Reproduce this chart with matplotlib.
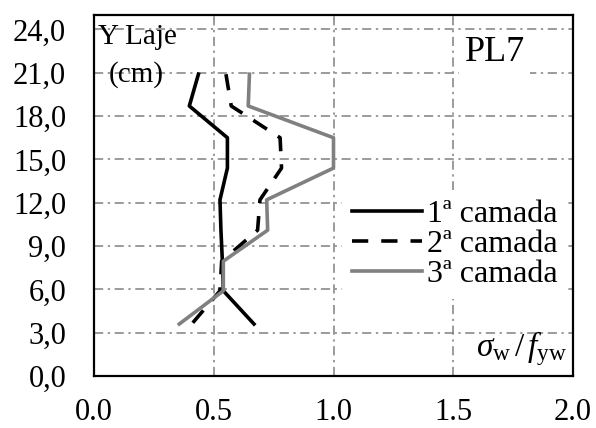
import matplotlib
matplotlib.use("Agg")
import matplotlib.pyplot as plt
from matplotlib.ticker import FuncFormatter

plt.rcParams['font.family'] = ['Liberation Serif', 'DejaVu Serif']
plt.rcParams['mathtext.fontset'] = 'custom'
plt.rcParams['mathtext.rm'] = 'Liberation Serif'
plt.rcParams['mathtext.it'] = 'Liberation Serif:italic'

# Height in the slab (cm) and normalised stirrup stress for each layer
y_laje = [20.9, 18.7, 16.5, 14.4, 12.2, 10.1, 7.95, 5.9, 3.6]
camada_1 = [0.436, 0.398, 0.557, 0.557, 0.526, 0.530, 0.536, 0.540, 0.668]
camada_2 = [0.551, 0.573, 0.777, 0.783, 0.693, 0.683, 0.533, 0.526, 0.408]
camada_3 = [0.649, 0.644, 1.000, 1.000, 0.721, 0.725, 0.540, 0.540, 0.356]
labels = ["1ª camada", "2ª camada", "3ª camada"]

x_ticks = [0.0, 0.5, 1.0, 1.5, 2.0]
y_ticks = [0, 3, 6, 9, 12, 15, 18, 21, 24]

fig = plt.figure(figsize=(5.96, 4.28), dpi=100)
ax = fig.add_axes([94 / 596, 1 - 376 / 428, (573 - 94) / 596, (376 - 15) / 428])

ax.plot(camada_1, y_laje, color='black', lw=2.6, label=labels[0], zorder=3)
ax.plot(camada_2, y_laje, color='black', lw=2.6, linestyle=(0, (4.5, 3.6)),
        label=labels[1], zorder=3)
ax.plot(camada_3, y_laje, color='#808080', lw=2.6, label=labels[2], zorder=3)

ax.set_xlim(0, 2.0)
ax.set_ylim(0, 25)
ax.set_xticks(x_ticks)
ax.set_yticks(y_ticks)
ax.xaxis.set_major_formatter(FuncFormatter(lambda v, p: f"{v:.1f}"))
ax.yaxis.set_major_formatter(FuncFormatter(lambda v, p: f"{v:.1f}".replace('.', ',')))
ax.tick_params(length=0, labelsize=22)
ax.tick_params(axis='y', pad=20)
ax.tick_params(axis='x', pad=16)

ax.grid(True, color='#808080', lw=1.1, linestyle=(0, (6, 3, 1.5, 3)), zorder=1)
ax.set_axisbelow(True)
for s in ax.spines.values():
    s.set_linewidth(1.6)
    s.set_color('black')

ax.text(0.008, 0.94, "Y Laje", transform=ax.transAxes, fontsize=21,
        ha='left', va='center')
ax.text(0.03, 0.835, "(cm)", transform=ax.transAxes, fontsize=21,
        ha='left', va='center')
ax.text(0.837, 0.895, "PL7", transform=ax.transAxes, fontsize=26,
        ha='center', va='center',
        bbox=dict(facecolor='white', edgecolor='none', pad=4), zorder=4)
ax.text(0.988, 0.075, r"$\sigma_{\rm w}\,/\,f_{\rm yw}$", transform=ax.transAxes,
        fontsize=24, ha='right', va='center')

leg = ax.legend(loc='upper left', bbox_to_anchor=(342 / 596, 1 - 190 / 428),
                bbox_transform=fig.transFigure, fontsize=23, frameon=True,
                fancybox=False, edgecolor='none', facecolor='white', framealpha=1,
                handlelength=2.2, handletextpad=0.15, labelspacing=0.02,
                borderpad=0.3, borderaxespad=0)
leg.set_zorder(5)

fig.savefig("out.png", dpi=100)
